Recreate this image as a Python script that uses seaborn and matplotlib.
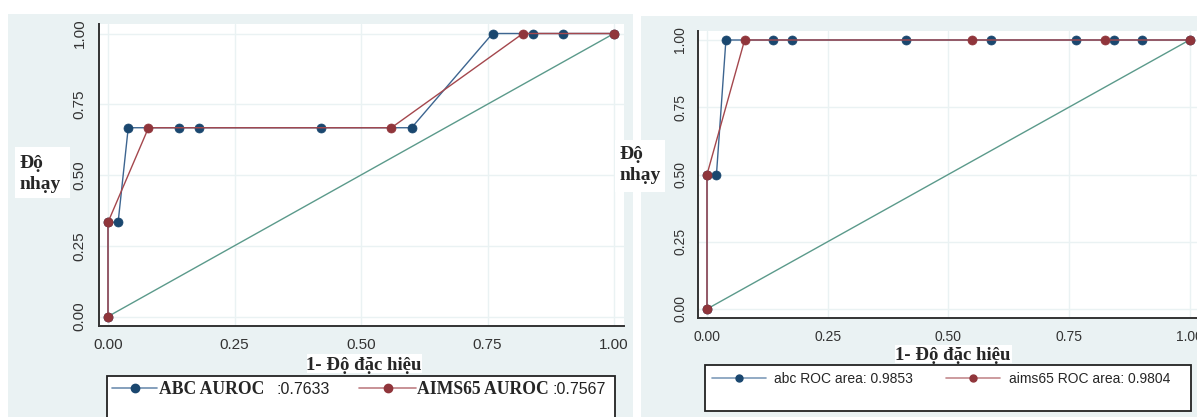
import matplotlib
matplotlib.use("Agg")
import matplotlib.pyplot as plt
from matplotlib.patches import Rectangle
from matplotlib.lines import Line2D
import seaborn as sns
import pandas as pd

# ---------------- data ----------------
left_abc_fpr = [0.0, 0.0, 0.02, 0.04, 0.14, 0.18, 0.42, 0.60, 0.76, 0.84, 0.90, 1.0]
left_abc_tpr = [0.0, 0.333, 0.333, 0.667, 0.667, 0.667, 0.667, 0.667, 1.0, 1.0, 1.0, 1.0]
left_aims_fpr = [0.0, 0.0, 0.08, 0.56, 0.82, 1.0]
left_aims_tpr = [0.0, 0.333, 0.667, 0.667, 1.0, 1.0]

right_abc_fpr = [0.0, 0.0, 0.0196, 0.0392, 0.137, 0.176, 0.412, 0.588, 0.765, 0.843, 0.902, 1.0]
right_abc_tpr = [0.0, 0.5, 0.5, 1.0, 1.0, 1.0, 1.0, 1.0, 1.0, 1.0, 1.0, 1.0]
right_aims_fpr = [0.0, 0.0, 0.078, 0.549, 0.824, 1.0]
right_aims_tpr = [0.0, 0.5, 1.0, 1.0, 1.0, 1.0]

ref_line = [0.0, 1.0]
ticks = [0.0, 0.25, 0.5, 0.75, 1.0]
tick_labels = ["0.00", "0.25", "0.50", "0.75", "1.00"]

left_names = ["ABC AUROC", "AIMS65 AUROC"]
left_scores = [":0.7633", ":0.7567"]
right_names = ["abc ROC area: 0.9853", "aims65 ROC area: 0.9804"]
xlabel_text = "1- Độ đặc hiệu"
ylabel_text = "Độ\nnhạy"

# ---------------- style ----------------
sns.set_style("white")
plt.rcParams["font.family"] = ["Liberation Sans", "DejaVu Sans"]
SERIF = ["Liberation Serif", "DejaVu Serif"]

W, H = 1197, 417
BG = "#eaf2f3"
NAVY = "#1a476f"
NAVY_LINE = "#3d6590"
MAROON = "#90353b"
MAROON_LINE = "#a4474d"
GREEN = "#5b9a8b"
AX_COL = "#333333"

fig = plt.figure(figsize=(W / 100, H / 100), dpi=100, facecolor="white")


def fx(px):
    return px / W


def fy(py):
    return 1 - py / H


def frect(x0, y0, x1, y1, **kw):
    r = Rectangle((fx(x0), fy(y1)), fx(x1) - fx(x0), fy(y0) - fy(y1),
                  transform=fig.transFigure, **kw)
    fig.add_artist(r)
    return r


# panel backgrounds
frect(8, 14, 633, 420, facecolor=BG, edgecolor="none", zorder=0)
frect(641, 16, 1200, 420, facecolor=BG, edgecolor="none", zorder=0)


def make_panel(box, x0px, x1px, y1px, y0px, abc, aims, labsize, pad_x, pad_y):
    L, T, R, B = box
    ax = fig.add_axes([fx(L), fy(B), fx(R) - fx(L), fy(T) - fy(B)])
    ax.set_facecolor("white")
    sx = 1.0 / (x1px - x0px)
    sy = 1.0 / (y0px - y1px)
    ax.set_xlim(-(x0px - L) * sx, 1 + (R - x1px) * sx)
    ax.set_ylim(-(B - y0px) * sy, 1 + (y1px - T) * sy)
    ax.set_xticks(ticks)
    ax.set_xticklabels(tick_labels)
    ax.set_yticks(ticks)
    ax.set_yticklabels(tick_labels, rotation=90, va="center")
    ax.grid(True, color=BG, lw=1.0, zorder=0)
    for s in ["top", "right"]:
        ax.spines[s].set_visible(False)
    for s in ["left", "bottom"]:
        ax.spines[s].set_color(AX_COL)
        ax.spines[s].set_linewidth(1.4)
    ax.tick_params(axis="both", direction="out", length=4.3, width=1.0,
                   color=AX_COL, labelcolor=AX_COL, labelsize=labsize)
    ax.tick_params(axis="x", pad=pad_x)
    ax.tick_params(axis="y", pad=pad_y)

    sns.lineplot(x=ref_line, y=ref_line, color=GREEN, lw=1.0, ax=ax,
                 estimator=None, sort=False, zorder=2)
    sns.lineplot(x=abc[0], y=abc[1], sort=False, estimator=None, ax=ax,
                 color=NAVY_LINE, lw=1.0, marker="o", markersize=6.5,
                 markerfacecolor=NAVY, markeredgecolor=NAVY, markeredgewidth=0.5,
                 zorder=3)
    sns.lineplot(x=aims[0], y=aims[1], sort=False, estimator=None, ax=ax,
                 color=MAROON_LINE, lw=1.0, marker="o", markersize=6.5,
                 markerfacecolor=MAROON, markeredgecolor=MAROON, markeredgewidth=0.5,
                 zorder=4)
    ax.set_xlabel("")
    ax.set_ylabel("")
    return ax


axL = make_panel((99, 24, 624, 326), 108, 614, 33.5, 316.5,
                 (left_abc_fpr, left_abc_tpr), (left_aims_fpr, left_aims_tpr),
                 11, 4.0, 4.5)
axR = make_panel((698, 31, 1197, 318), 707, 1189.5, 40, 309,
                 (right_abc_fpr, right_abc_tpr), (right_aims_fpr, right_aims_tpr),
                 10, 4.0, 3.6)

# axis titles (white boxes as in reference)
frect(15, 147, 70, 198, facecolor="white", edgecolor="none", zorder=5)
fig.text(fx(19), fy(174), ylabel_text, family=SERIF, weight="bold", fontsize=14,
         ha="left", va="center", linespacing=1.3, zorder=6)
frect(615, 140, 665, 192, facecolor="white", edgecolor="none", zorder=5)
fig.text(fx(620), fy(165), ylabel_text, family=SERIF, weight="bold", fontsize=14,
         ha="left", va="center", linespacing=1.3, zorder=6)

frect(307, 354, 422, 373, facecolor="white", edgecolor="none", zorder=5)
fig.text(fx(364), fy(365), xlabel_text, family=SERIF, weight="bold", fontsize=13.5,
         ha="center", va="center", zorder=6)
frect(895, 345, 1012, 363, facecolor="white", edgecolor="none", zorder=5)
fig.text(fx(953), fy(355), xlabel_text, family=SERIF, weight="bold", fontsize=13.5,
         ha="center", va="center", zorder=6)

# legend boxes
frect(107, 376, 615, 430, facecolor="white", edgecolor="#222222", lw=1.3, zorder=5)
frect(705, 365, 1191, 411, facecolor="white", edgecolor="#222222", lw=1.3, zorder=5)


def handle(line_col, mk_col, ms):
    return Line2D([], [], color=line_col, lw=1.2, marker="o", markersize=ms,
                  markerfacecolor=mk_col, markeredgecolor=mk_col)


def add_leg(h, label, x_px, y_px, prop, hl_px, pad_px):
    fs_px = prop["size"] * 100 / 72
    leg = fig.legend(handles=[h], labels=[label], loc="center left",
                     bbox_to_anchor=(fx(x_px), fy(y_px)), frameon=False,
                     borderpad=0, borderaxespad=0, handlelength=hl_px / fs_px,
                     handletextpad=pad_px / fs_px, prop=prop)
    leg.set_zorder(7)
    return leg


serif_prop = {"family": SERIF, "weight": "bold", "size": 12.7}
sans_prop_r = {"family": ["Liberation Sans", "DejaVu Sans"], "size": 10}

add_leg(handle("#6f8fb0", NAVY, 6), left_names[0], 112, 390, serif_prop, 45, 2)
add_leg(handle("#bf7f84", MAROON, 6), left_names[1], 359, 390, serif_prop, 57, 1)
fig.text(fx(276), fy(390), left_scores[0], fontsize=11.5, ha="left", va="center",
         color="#222222", zorder=8)
fig.text(fx(552), fy(390), left_scores[1], fontsize=11.5, ha="left", va="center",
         color="#222222", zorder=8)

add_leg(handle("#7f9cba", NAVY, 5), right_names[0], 712, 379, sans_prop_r, 54, 8)
add_leg(handle("#c48a8e", MAROON, 5), right_names[1], 946, 379, sans_prop_r, 54, 9)

fig.savefig("out.png", dpi=100, facecolor="white")
